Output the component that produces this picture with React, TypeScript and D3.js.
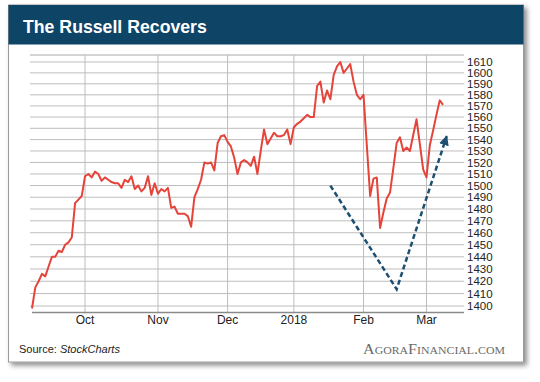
import React from 'react';
import * as d3 from 'd3';

// Russell 2000 daily closes (one per trading day)
const closes: number[] = [
  1398, 1415, 1420, 1426, 1424, 1432, 1440, 1440, 1445, 1444,
  1450, 1452, 1456, 1485, 1488, 1491, 1508, 1510, 1507, 1512,
  1510, 1504, 1507, 1505, 1503, 1502, 1502, 1498, 1505, 1503,
  1508, 1497, 1500, 1495, 1498, 1508, 1492, 1502, 1493, 1497,
  1495, 1498, 1481, 1482, 1476, 1476, 1476, 1474, 1465, 1490,
  1497, 1505, 1520, 1519, 1520, 1513, 1537, 1543, 1544, 1538,
  1534, 1524, 1510, 1520, 1522, 1520, 1517, 1525, 1510, 1530,
  1549, 1536, 1541, 1546, 1543, 1543, 1544, 1549, 1536, 1551,
  1554, 1556, 1559, 1562, 1560, 1560, 1588, 1592, 1573, 1584,
  1576, 1598, 1606, 1610, 1600, 1604, 1608, 1592, 1580, 1576,
  1580, 1535, 1491, 1506, 1507, 1464, 1477, 1489, 1494, 1515,
  1537, 1542, 1530, 1533, 1530, 1544, 1558, 1536, 1514, 1507,
  1535, 1548, 1562, 1575, 1571,
];

const monthLabels: string[] = ['Oct', 'Nov', 'Dec', '2018', 'Feb', 'Mar'];
const monthIndex: number[] = [16, 38, 59, 79, 100, 119];

const yTickValues: number[] = [
  1400, 1410, 1420, 1430, 1440, 1450, 1460, 1470, 1480, 1490, 1500,
  1510, 1520, 1530, 1540, 1550, 1560, 1570, 1580, 1590, 1600, 1610,
];

// dashed "V" annotation (trading-day index, value)
const arrowIdx: number[] = [90, 110, 125.1];
const arrowVal: number[] = [1500, 1413.5, 1543];

const FONT = "'Liberation Sans', Arial, Helvetica, sans-serif";

export default function App() {
  const plotLeft = 30;
  const plotRight = 464;
  const plotTop = 55;
  const plotBottom = 312.5;

  const x = d3.scaleLinear().domain([0, closes.length - 1]).range([32, 32 + 3.315 * (closes.length - 1)]);
  const y = d3.scaleLog().domain([1400, 1610]).range([306, 62]);

  const line = d3
    .line<number>()
    .x((_, i) => x(i))
    .y((d) => y(d));

  const arrowLine = d3
    .line<number>()
    .x((d) => x(d))
    .y((_, i) => y(arrowVal[i]));

  return (
    <svg
      width={540}
      height={382}
      style={{ position: 'absolute', left: 0, top: 0, display: 'block' }}
      xmlns="http://www.w3.org/2000/svg"
    >
      <defs>
        <filter id="shadow" x="-5%" y="-5%" width="115%" height="115%">
          <feDropShadow dx="3" dy="3" stdDeviation="2.5" floodColor="#000" floodOpacity="0.45" />
        </filter>
        <marker
          id="arrowhead"
          viewBox="0 0 10 10"
          refX="9"
          refY="5"
          markerWidth="4"
          markerHeight="4"
          orient="auto"
          markerUnits="strokeWidth"
        >
          <path d="M0,0 L10,5 L0,10 Z" fill="#1d4f70" />
        </marker>
      </defs>
      <rect x={0} y={0} width={540} height={382} fill="#ffffff" />

      {/* card */}
      <rect x={8.5} y={5} width={515} height={357} fill="#ffffff" stroke="#9a9a9a" strokeWidth={1} filter="url(#shadow)" />
      <rect x={8.5} y={5} width={515} height={39.5} fill="#0e4567" />
      <text x={23} y={33} fill="#ffffff" fontFamily={FONT} fontWeight="bold" fontSize={17.7}>
        The Russell Recovers
      </text>

      {/* horizontal gridlines */}
      {yTickValues.map((v) => (
        <line key={'h' + v} x1={plotLeft} x2={plotRight} y1={y(v)} y2={y(v)} stroke="#bdbdbd" strokeWidth={1} />
      ))}
      <line x1={plotLeft} x2={plotRight} y1={plotTop} y2={plotTop} stroke="#a8a8a8" strokeWidth={1} />

      {/* vertical gridlines */}
      {monthIndex.map((m, i) => (
        <line key={'v' + i} x1={x(m)} x2={x(m)} y1={plotTop} y2={plotBottom} stroke="#bdbdbd" strokeWidth={1} />
      ))}

      {/* bottom axis */}
      <line x1={32} x2={plotRight} y1={plotBottom} y2={plotBottom} stroke="#8a8a8a" strokeWidth={1.3} />

      {/* y tick labels */}
      {yTickValues.map((v) => (
        <text
          key={'t' + v}
          x={467}
          y={y(v)}
          dy="0.36em"
          fill="#222"
          fontFamily={FONT}
          fontSize={11.5}
        >
          {v}
        </text>
      ))}

      {/* x labels */}
      {monthLabels.map((lab, i) => (
        <text
          key={'m' + lab}
          x={x(monthIndex[i])}
          y={323.5}
          textAnchor="middle"
          fill="#222"
          fontFamily={FONT}
          fontSize={12}
        >
          {lab}
        </text>
      ))}

      {/* price line */}
      <path d={line(closes) || ''} fill="none" stroke="#e4443a" strokeWidth={2} strokeLinejoin="round" />

      {/* dashed V arrow */}
      <path
        d={arrowLine(arrowIdx) || ''}
        fill="none"
        stroke="#1d4f70"
        strokeWidth={2.5}
        strokeDasharray="5,3"
        markerEnd="url(#arrowhead)"
      />

      {/* footer */}
      <text x={19} y={353} fill="#222" fontFamily={FONT} fontSize={11}>
        Source: <tspan fontStyle="italic">StockCharts</tspan>
      </text>
      <text
        x={363}
        y={353.5}
        fill="#6b6b6b"
        fontFamily="'Liberation Serif', 'DejaVu Serif', serif"
        fontSize={15}
        style={{ fontVariant: 'small-caps' }}
        textLength={142}
        lengthAdjust="spacingAndGlyphs"
      >
        AgoraFinancial.com
      </text>
    </svg>
  );
}
